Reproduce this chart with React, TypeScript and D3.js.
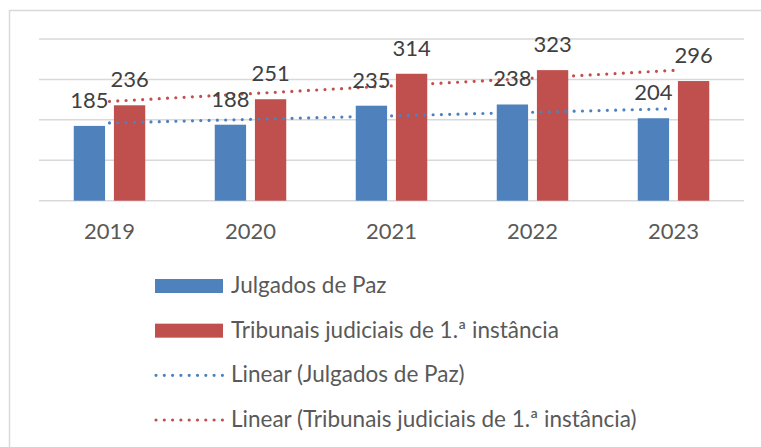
import React from 'react';
import * as d3 from 'd3';

const years = ['2019', '2020', '2021', '2022', '2023'];
const julgados = [185, 188, 235, 238, 204];
const tribunais = [236, 251, 314, 323, 296];
const yTicks = [0, 100, 200, 300, 400];
const seriesNames = ['Julgados de Paz', 'Tribunais judiciais de 1.ª instância'];

const BLUE = '#4F81BD';
const RED = '#C0504D';
const GRID = '#D9D9D9';
const FONT = 'Lato, "Open Sans", sans-serif';

// least-squares fit, same as Excel's "Linear" trendline
function linearFit(values: number[]) {
  const n = values.length;
  const xs = d3.range(1, n + 1);
  const mx = d3.mean(xs)!;
  const my = d3.mean(values)!;
  const num = d3.sum(xs, (x, i) => (x - mx) * (values[i] - my));
  const den = d3.sum(xs, (x) => (x - mx) ** 2);
  const slope = num / den;
  return xs.map((x) => my + slope * (x - mx));
}

const App: React.FC = () => {
  const width = 761;
  const height = 447;

  const x = d3.scaleBand().domain(years).range([39, 744]).padding(0);
  const groupW = x.bandwidth() * 0.507;
  const inner = d3
    .scaleBand()
    .domain(seriesNames)
    .range([(x.bandwidth() - groupW) / 2, (x.bandwidth() + groupW) / 2])
    .paddingInner(0.22);
  const y = d3.scaleLinear().domain([0, 400]).range([200.7, 39]);

  const series = [
    { name: seriesNames[0], values: julgados, color: BLUE },
    { name: seriesNames[1], values: tribunais, color: RED },
  ];

  const cx = (yr: string) => x(yr)! + x.bandwidth() / 2;
  const trendLine = d3
    .line<number>()
    .x((_, i) => cx(years[i]))
    .y((v) => y(v));

  const legendRows = [
    { label: 'Julgados de Paz', color: BLUE, kind: 'bar' },
    { label: 'Tribunais judiciais de 1.ª instância', color: RED, kind: 'bar' },
    { label: 'Linear (Julgados de Paz)', color: BLUE, kind: 'line' },
    { label: 'Linear (Tribunais judiciais de 1.ª instância)', color: RED, kind: 'line' },
  ];
  const legendY = d3.scalePoint().domain(legendRows.map((r) => r.label)).range([286, 420]);

  return (
    <svg
      width={width}
      height={height}
      style={{ position: 'absolute', left: 0, top: 0, background: '#fff' }}
      fontFamily={FONT}
    >
      <rect x={9.5} y={10.5} width={800} height={500} fill="#fff" stroke={GRID} strokeWidth={1.5} />

      {yTicks.map((t) => (
        <line key={t} x1={39} x2={744} y1={y(t)} y2={y(t)} stroke={GRID} strokeWidth={1.5} />
      ))}

      {series.map((s) =>
        s.values.map((v, i) => (
          <rect
            key={s.name + i}
            x={x(years[i])! + inner(s.name)!}
            y={y(v)}
            width={inner.bandwidth()}
            height={y(0) - y(v)}
            fill={s.color}
          />
        ))
      )}

      {series.map((s) => (
        <path
          key={'trend' + s.name}
          d={trendLine(linearFit(s.values))!}
          fill="none"
          stroke={s.color}
          strokeWidth={3.2}
          strokeLinecap="round"
          strokeDasharray="0 8.3"
        />
      ))}

      {series.map((s) =>
        s.values.map((v, i) => (
          <text
            key={'lbl' + s.name + i}
            x={x(years[i])! + inner(s.name)! + inner.bandwidth() / 2}
            y={y(v) - 18}
            textAnchor="middle"
            fontSize={22}
            fill="#404040"
          >
            {v}
          </text>
        ))
      )}

      {years.map((yr) => (
        <text key={yr} x={cx(yr)} y={239.3} textAnchor="middle" fontSize={22} fill="#595959">
          {yr}
        </text>
      ))}

      {legendRows.map((r) => {
        const ry = legendY(r.label)!;
        return (
          <g key={r.label}>
            {r.kind === 'bar' ? (
              <rect x={155} y={ry - 7} width={68} height={14} fill={r.color} />
            ) : (
              <line
                x1={156}
                x2={223}
                y1={ry}
                y2={ry}
                stroke={r.color}
                strokeWidth={3.2}
                strokeLinecap="round"
                strokeDasharray="0 8.3"
              />
            )}
            <text x={231} y={ry + 7} fontSize={22.5} fill="#595959">
              {r.label}
            </text>
          </g>
        );
      })}
    </svg>
  );
};

export default App;
